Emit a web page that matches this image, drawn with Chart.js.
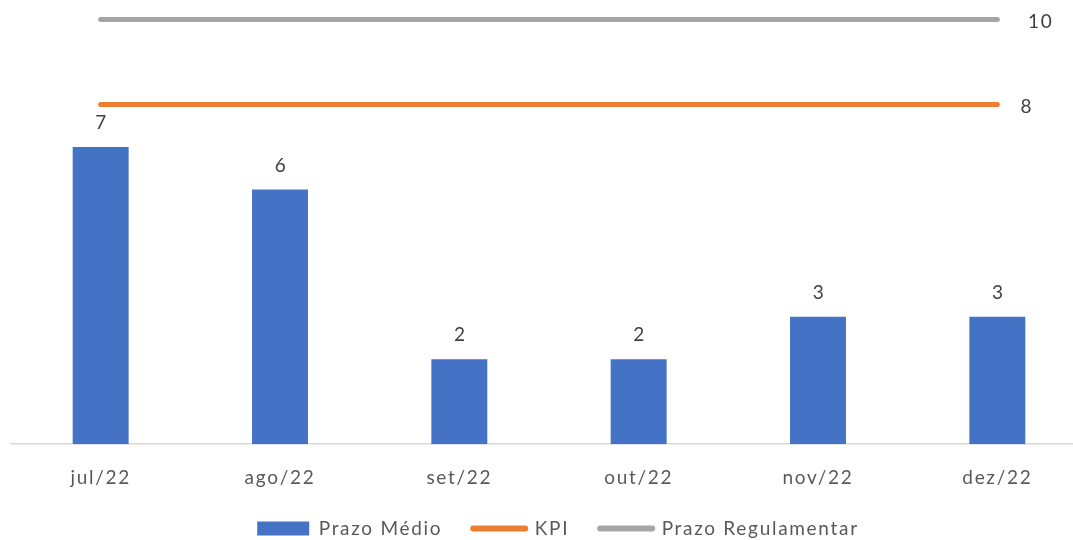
<!DOCTYPE html>
<html><head><meta charset="utf-8">
<script src="https://cdn.jsdelivr.net/npm/chart.js@4.4.0/dist/chart.umd.min.js"></script>
<style>
html,body{margin:0;padding:0;background:#fff;overflow:hidden;width:1073px;height:540px;}
#wrap{position:absolute;left:0;top:0;width:1095px;height:548px;}
</style></head><body>
<div id="wrap"><canvas id="c"></canvas></div>
<script>
const categories = ['jul/22','ago/22','set/22','out/22','nov/22','dez/22'];
const prazoMedio = [7, 6, 2, 2, 3, 3];
const kpi = [8, 8, 8, 8, 8, 8];
const prazoRegulamentar = [10, 10, 10, 10, 10, 10];
const seriesNames = ['Prazo Médio', 'KPI', 'Prazo Regulamentar'];
const yMin = 0, yMax = 10;

const FONT = 'Lato';
const SPACING = '1.7px';

const spacingPlugin = {
  id: 'spacing',
  beforeInit(c){ c.ctx.letterSpacing = SPACING; },
  afterInit(c){ c.ctx.letterSpacing = SPACING; },
  resize(c){ c.ctx.letterSpacing = SPACING; },
  beforeUpdate(c){ c.ctx.letterSpacing = SPACING; },
  beforeLayout(c){ c.ctx.letterSpacing = SPACING; },
  afterLayout(c){
    const lg = c.legend;
    if (lg) {
      lg.left += 9; lg.right += 9;
      if (typeof lg.adjustHitBoxes === 'function') lg.adjustHitBoxes();
    }
  },
  beforeDraw(c){ c.ctx.letterSpacing = SPACING; }
};

const labelPlugin = {
  id: 'valueLabels',
  afterDatasetsDraw(chart){
    const ctx = chart.ctx;
    ctx.save();
    ctx.letterSpacing = SPACING;
    ctx.font = '19px ' + FONT;
    ctx.fillStyle = '#404040';
    ctx.textBaseline = 'middle';
    ctx.textAlign = 'center';
    chart.data.datasets.forEach((ds, di) => {
      const meta = chart.getDatasetMeta(di);
      if (ds.type === 'line') {
        const last = meta.data.length - 1;
        const pt = meta.data[last];
        ctx.fillText(String(ds.data[last]), pt.x + ds.labelDx, pt.y + 2);
      } else {
        meta.data.forEach((bar, i) => {
          ctx.fillText(String(ds.data[i]), bar.x + 1, bar.y - 24);
        });
      }
    });
    ctx.restore();
  }
};

new Chart(document.getElementById('c'), {
  type: 'bar',
  data: {
    labels: categories,
    datasets: [
      {
        type: 'bar',
        label: seriesNames[0],
        data: prazoMedio,
        backgroundColor: '#4472C4',
        borderWidth: 0,
        categoryPercentage: 1,
        barPercentage: 0.312
      },
      {
        type: 'line',
        label: seriesNames[1],
        data: kpi,
        borderColor: '#ED7D31',
        backgroundColor: '#ED7D31',
        borderWidth: 5,
        borderCapStyle: 'round',
        pointRadius: 0,
        pointHoverRadius: 0,
        fill: false,
        clip: false,
        labelDx: 29.5
      },
      {
        type: 'line',
        label: seriesNames[2],
        data: prazoRegulamentar,
        borderColor: '#A5A5A5',
        backgroundColor: '#A5A5A5',
        borderWidth: 5,
        borderCapStyle: 'round',
        pointRadius: 0,
        pointHoverRadius: 0,
        fill: false,
        clip: false,
        labelDx: 43.5
      }
    ]
  },
  options: {
    responsive: true,
    maintainAspectRatio: false,
    animation: false,
    events: [],
    layout: { padding: { left: 11, right: 8, top: 19.5, bottom: 0 } },
    scales: {
      x: {
        offset: true,
        grid: { display: false, drawTicks: false },
        border: { display: true, color: '#D9D9D9', width: 1.5 },
        ticks: {
          color: '#595959',
          font: { family: FONT, size: 19 },
          padding: 22,
          maxRotation: 0,
          autoSkip: false
        },
        afterFit(axis){ axis.height -= 23; }
      },
      y: {
        display: false,
        min: yMin,
        max: yMax,
        grid: { display: false }
      }
    },
    plugins: {
      tooltip: { enabled: false },
      legend: {
        position: 'bottom',
        labels: {
          color: '#595959',
          font: { family: FONT, size: 19 },
          usePointStyle: true,
          pointStyleWidth: 52,
          boxHeight: 14,
          padding: 31,
          generateLabels(chart){
            const items = Chart.defaults.plugins.legend.labels.generateLabels(chart);
            items.forEach(it => {
              const ds = chart.data.datasets[it.datasetIndex];
              if (ds.type === 'line') {
                it.pointStyle = 'line';
                it.lineWidth = 6;
                it.strokeStyle = ds.borderColor;
                it.fillStyle = ds.borderColor;
                it.lineCap = 'round';
              } else {
                it.pointStyle = 'rect';
                it.lineWidth = 0;
                it.fillStyle = ds.backgroundColor;
                it.strokeStyle = ds.backgroundColor;
              }
            });
            return items;
          }
        }
      }
    }
  },
  plugins: [spacingPlugin, labelPlugin]
});
</script>
</body></html>
